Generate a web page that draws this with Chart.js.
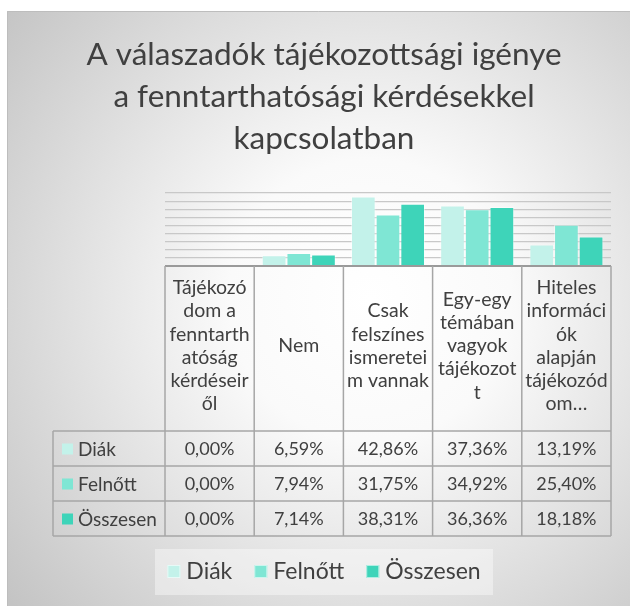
<!DOCTYPE html>
<html>
<head>
<meta charset="utf-8">
<script src="https://cdn.jsdelivr.net/npm/chart.js@4"></script>
<style>
  html, body { margin: 0; padding: 0; background: #fff; }
  canvas { display: block; }
</style>
</head>
<body>
<canvas id="chart" width="630" height="606"></canvas>
<script>
const titleLines = ['A válaszadók tájékozottsági igénye', 'a fenntarthatósági kérdésekkel', 'kapcsolatban'];
// category labels, wrapped the way the table shows them
const categories = [
  ['Tájékozó', 'dom a', 'fenntarth', 'atóság', 'kérdéseir', 'ől'],
  ['Nem'],
  ['Csak', 'felszínes', 'ismeretei', 'm vannak'],
  ['Egy-egy', 'témában', 'vagyok', 'tájékozot', 't'],
  ['Hiteles', 'informáci', 'ók', 'alapján', 'tájékozód', 'om…']
];
const seriesNames = ['Diák', 'Felnőtt', 'Összesen'];
const diak = [0.00, 6.59, 42.86, 37.36, 13.19];
const felnott = [0.00, 7.94, 31.75, 34.92, 25.40];
const osszesen = [0.00, 7.14, 38.31, 36.36, 18.18];
const yMax = 45;
const yStep = 5;

const colors = ['#c3f2ea', '#7fe6d4', '#3ed4b9'];
const FONT = 'Lato, "Open Sans", sans-serif';
const TXT = '#404040';
const LINE = '#a6a6a6';

function pct(v) { return v.toFixed(2).replace('.', ',') + '%'; }

const decor = {
  id: 'decor',
  beforeDraw(chart) {
    const c = chart.ctx;
    c.save();
    c.fillStyle = '#fff';
    c.fillRect(0, 0, chart.width, chart.height);
    const g = c.createRadialGradient(370, 300, 0, 370, 300, 470);
    g.addColorStop(0, '#ffffff');
    g.addColorStop(0.3, '#fafafa');
    g.addColorStop(1, '#c4c4c4');
    c.fillStyle = g;
    c.fillRect(7, 11, chart.width - 7, chart.height - 11);
    c.strokeStyle = '#bdbdbd';
    c.lineWidth = 1;
    c.beginPath();
    c.moveTo(7.5, chart.height); c.lineTo(7.5, 11.5); c.lineTo(chart.width, 11.5);
    c.stroke();

    c.fillStyle = TXT;
    c.font = '31.5px ' + FONT;
    c.textAlign = 'center';
    c.textBaseline = 'alphabetic';
    titleLines.forEach((t, i) => c.fillText(t, 324, 65 + i * 42));
    c.restore();
  },
  afterDraw(chart) {
    const c = chart.ctx;
    const xs = chart.scales.x;
    const area = chart.chartArea;
    const colW = (xs.right - xs.left) / categories.length;
    const top = area.bottom, headBottom = 431, rowH = 35, rowLeft = 53;
    const rows = [diak, felnott, osszesen];
    const tableBottom = headBottom + rowH * rows.length;
    c.save();
    c.strokeStyle = LINE;
    c.lineWidth = 1.5;
    c.beginPath();
    for (let i = 0; i <= categories.length; i++) {
      const x = xs.left + i * colW;
      c.moveTo(x, top); c.lineTo(x, tableBottom);
    }
    c.moveTo(rowLeft, headBottom); c.lineTo(rowLeft, tableBottom);
    for (let r = 0; r <= rows.length; r++) {
      const y = headBottom + r * rowH;
      c.moveTo(rowLeft, y); c.lineTo(xs.right, y);
    }
    c.stroke();

    c.fillStyle = TXT;
    c.font = '19.5px ' + FONT;
    c.textAlign = 'center';
    c.textBaseline = 'middle';
    const lh = 23.2;
    categories.forEach((lines, i) => {
      const cx = xs.getPixelForValue(i);
      const y0 = 346 - (lines.length - 1) * lh / 2;
      lines.forEach((t, k) => c.fillText(t, cx, y0 + k * lh));
    });

    rows.forEach((vals, r) => {
      const cy = headBottom + r * rowH + rowH / 2 + 1;
      c.font = '18px ' + FONT;
      c.textAlign = 'center';
      c.fillStyle = TXT;
      vals.forEach((v, i) => c.fillText(pct(v), xs.getPixelForValue(i), cy));
      c.fillStyle = colors[r];
      c.fillRect(62, cy - 6, 11, 11);
      c.fillStyle = TXT;
      c.font = '19px ' + FONT;
      c.textAlign = 'left';
      c.fillText(seriesNames[r], 78, cy);
    });

    // legend
    c.fillStyle = 'rgba(255,255,255,0.4)';
    c.fillRect(155, 549, 338, 46);
    c.font = '23px ' + FONT;
    c.textAlign = 'left';
    const sq = 13, gap = 6, itemGap = 22;
    let total = 0;
    seriesNames.forEach((n, i) => { total += sq + gap + c.measureText(n).width + (i ? itemGap : 0); });
    let x = 324 - total / 2;
    seriesNames.forEach((n, i) => {
      if (i) x += itemGap;
      c.fillStyle = colors[i];
      c.fillRect(x, 565, sq, sq);
      c.strokeStyle = 'rgba(255,255,255,0.6)';
      c.lineWidth = 1;
      c.strokeRect(x + 0.5, 565.5, sq - 1, sq - 1);
      x += sq + gap;
      c.fillStyle = TXT;
      c.fillText(n, x, 572);
      x += c.measureText(n).width;
    });
    c.restore();
  }
};

function build() {
  new Chart(document.getElementById('chart'), {
    type: 'bar',
    data: {
      labels: categories,
      datasets: [diak, felnott, osszesen].map((d, i) => ({
        label: seriesNames[i],
        data: d,
        backgroundColor: colors[i],
        borderColor: 'rgba(255,255,255,0.45)',
        borderWidth: 1,
        categoryPercentage: 0.83,
        barPercentage: 1
      }))
    },
    options: {
      responsive: false,
      animation: false,
      devicePixelRatio: 1,
      layout: { padding: { left: 165, right: 19, top: 193, bottom: 340 } },
      plugins: { legend: { display: false }, title: { display: false }, tooltip: { enabled: false } },
      scales: {
        x: { display: false },
        y: {
          min: 0, max: yMax,
          ticks: { display: false, stepSize: yStep },
          border: { display: false },
          grid: {
            drawTicks: false,
            color: ctx => ctx.tick && ctx.tick.value === 0 ? '#9a9a9a' : '#c8c8c8',
            lineWidth: ctx => ctx.tick && ctx.tick.value === 0 ? 2 : 1.2
          },
          afterFit: s => { s.width = 0; }
        }
      }
    },
    plugins: [decor]
  });
}

document.fonts.load('20px Lato').then(build, build);
</script>
</body>
</html>
